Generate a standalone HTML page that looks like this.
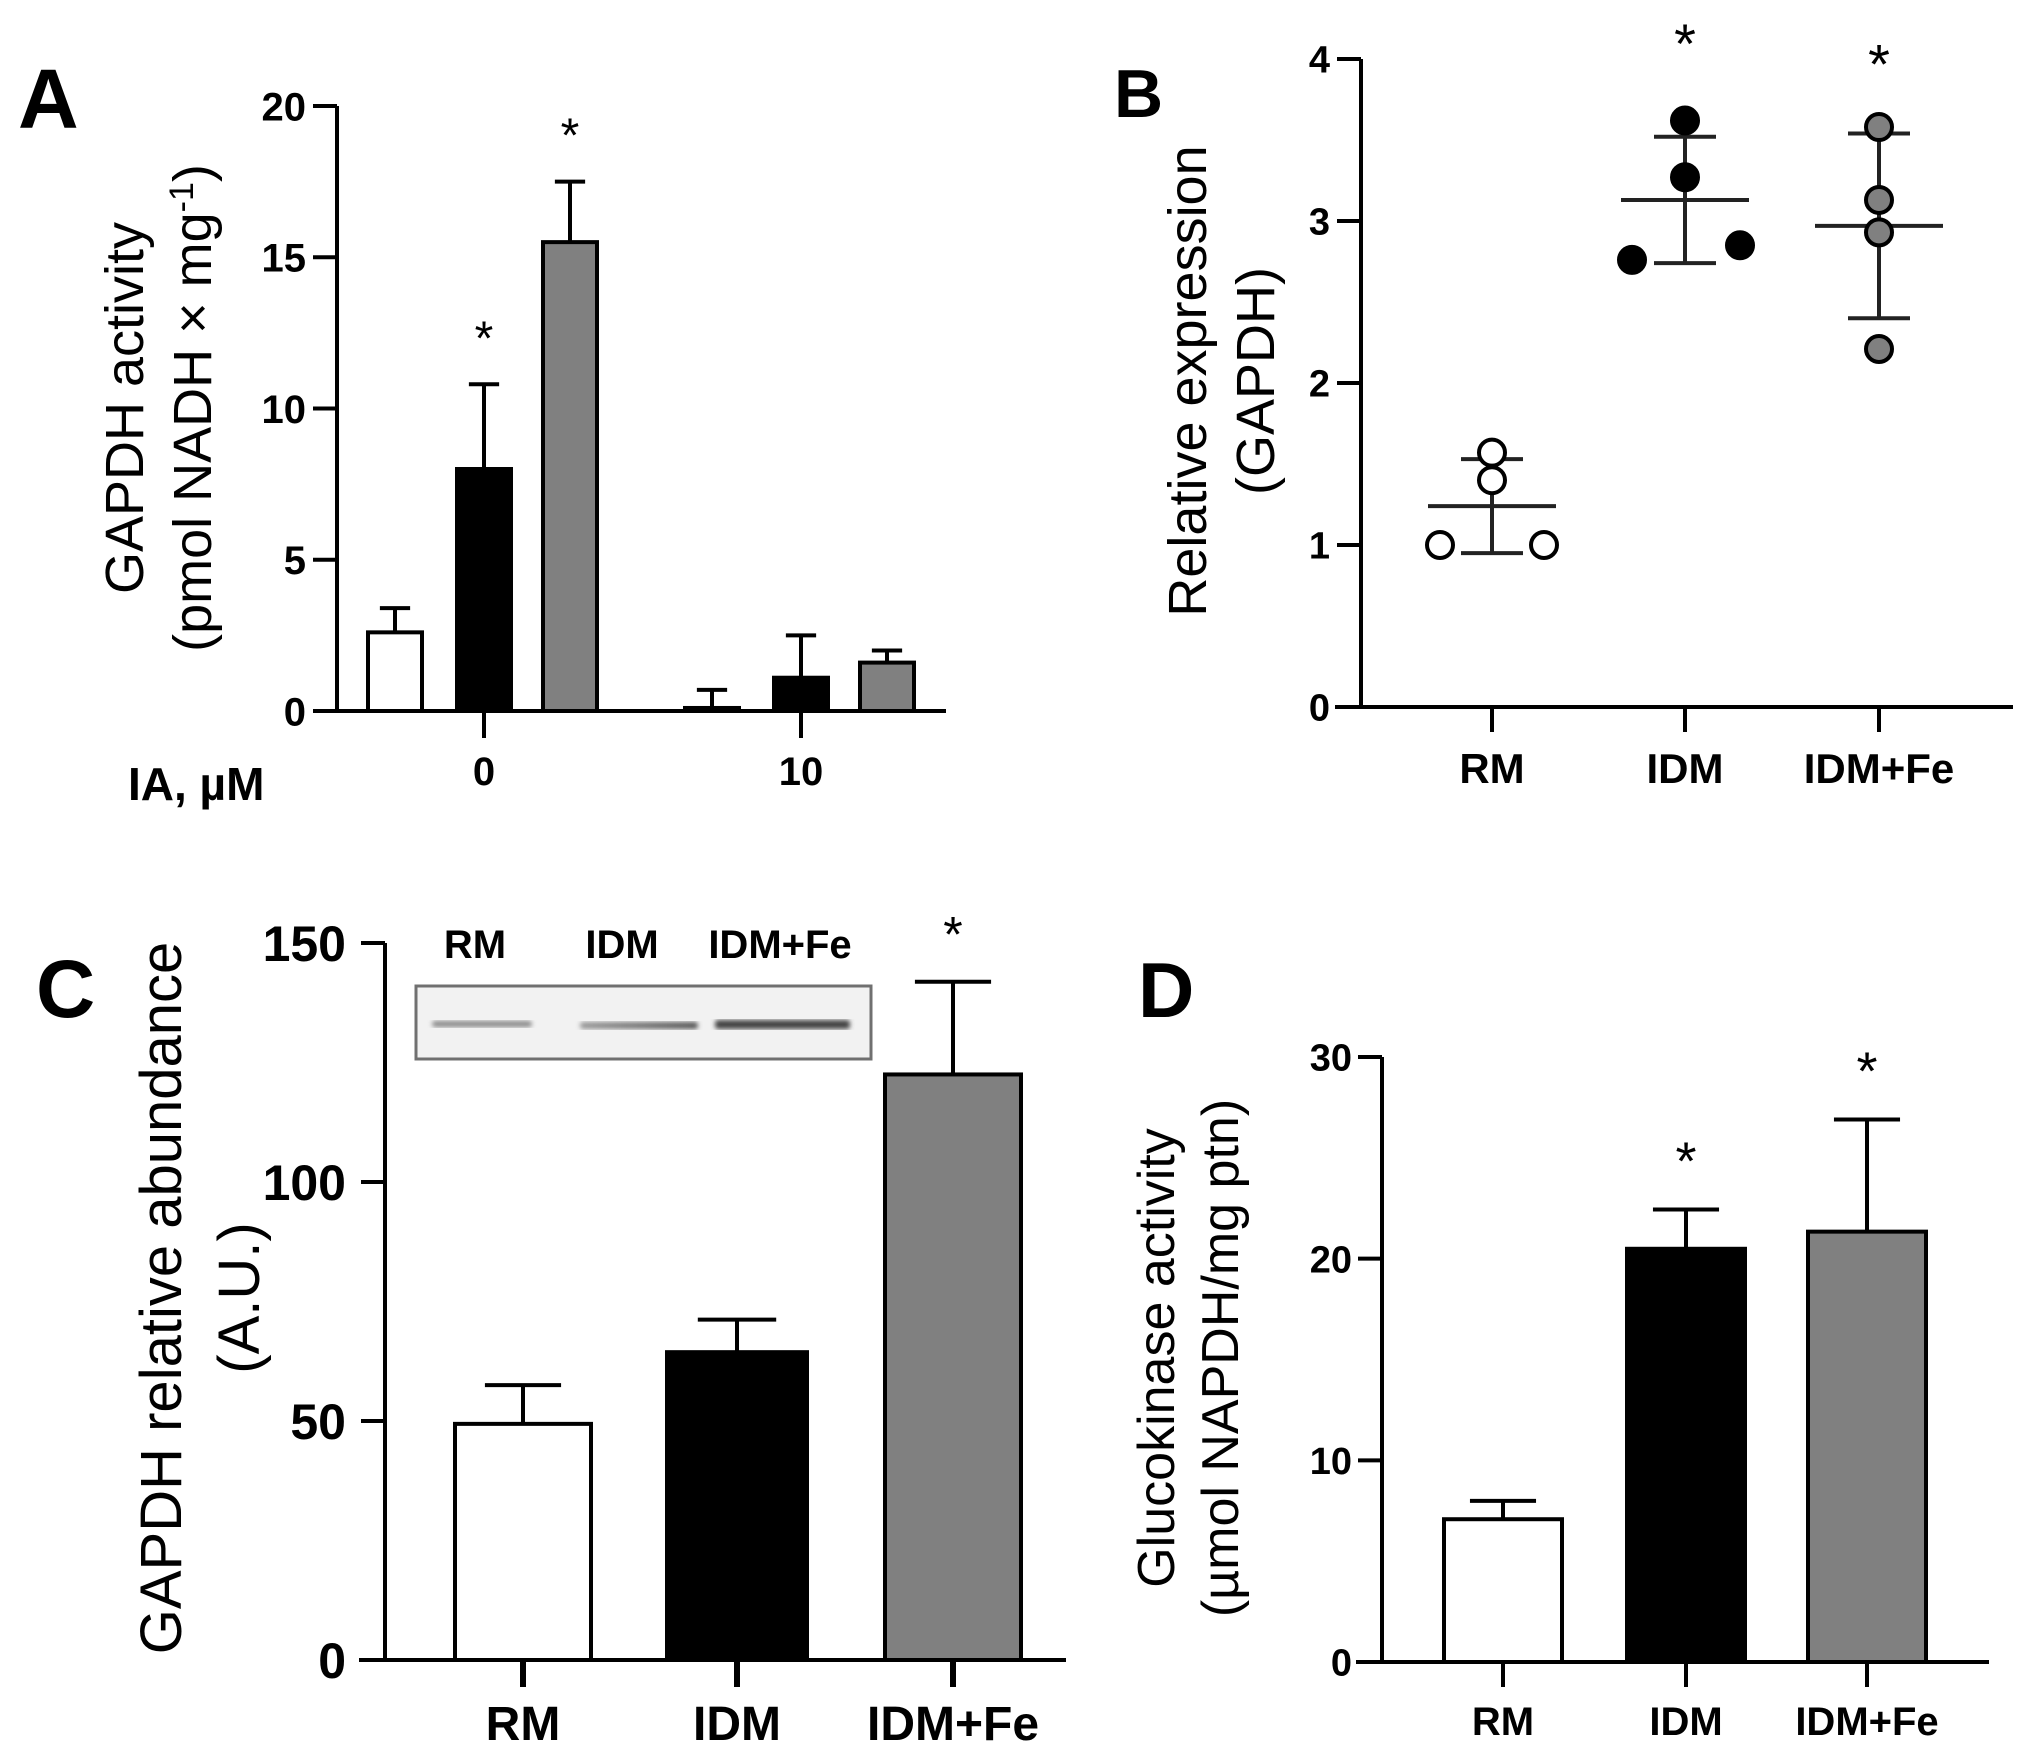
<!DOCTYPE html>
<html><head><meta charset="utf-8"><style>
html,body{margin:0;padding:0;background:#fff;}
svg{display:block;font-family:"Liberation Sans",Arial,sans-serif;}
</style></head><body>
<svg id="fig" width="2028" height="1756" viewBox="0 0 2028 1756" xmlns="http://www.w3.org/2000/svg">
<defs>
<linearGradient id="band" x1="0" x2="1"><stop offset="0" stop-color="#999"/><stop offset="1" stop-color="#555"/></linearGradient>
<filter id="blur"><feGaussianBlur stdDeviation="2.5"/></filter>
</defs>
<g id="panelA"></g>
<g id="panelB"></g>
<g id="panelC"></g>
<g id="panelD"></g>
</svg>
<script>
// Panel A data
const aGroups = ["0", "10"];
const aMeans = [[2.6, 8.0, 15.5], [0.1, 1.1, 1.6]];
const aErrs = [[0.8, 2.8, 2.0], [0.6, 1.4, 0.4]];
const aTicks = [0, 5, 10, 15, 20];
const aSig = [[false, true, true], [false, false, false]];
// Panel B data
const bCats = ["RM", "IDM", "IDM+Fe"];
const bPoints = [[1.00, 1.40, 1.57, 1.00], [2.76, 3.27, 3.62, 2.85], [3.58, 3.13, 2.93, 2.21]];
const bMean = [1.24, 3.13, 2.97];
const bSD = [0.29, 0.39, 0.57];
const bTicks = [0, 1, 2, 3, 4];
const bSig = [false, true, true];
// Panel C data
const cCats = ["RM", "IDM", "IDM+Fe"];
const cMeans = [49.4, 64.4, 122.5];
const cErrs = [8.1, 6.8, 19.4];
const cTicks = [0, 50, 100, 150];
const cSig = [false, false, true];
// Panel D data
const dCats = ["RM", "IDM", "IDM+Fe"];
const dMeans = [7.08, 20.49, 21.34];
const dErrs = [0.91, 1.95, 5.56];
const dTicks = [0, 10, 20, 30];
const dSig = [false, true, true];

const NS = "http://www.w3.org/2000/svg";
const fills = ["#ffffff", "#000000", "#808080"];
function mk(parent, tag, attrs, text) {
  const e = document.createElementNS(NS, tag);
  for (const k in attrs) e.setAttribute(k, attrs[k]);
  if (text !== undefined) e.textContent = text;
  parent.appendChild(e);
  return e;
}
function lin(d0, d1, r0, r1) { return v => r0 + (v - d0) * (r1 - r0) / (d1 - d0); }

function axisY(g, x, y, ticks, x0, fs, tickLen) {
  const ax = mk(g, "line", {x1: x, x2: x, y1: y(ticks[ticks.length - 1]), y2: y(ticks[0]), stroke: "#000", "stroke-width": 4});
  
  
  ticks.forEach(t => {
    const tk = mk(g, "line", {x1: x - tickLen, x2: x, y1: y(t), y2: y(t), stroke: "#000", "stroke-width": 4});
    
    
    const lb = mk(g, "text", {x: x0, y: y(t) + fs * 0.36, "text-anchor": "end", "font-size": fs, "font-weight": "bold"}, String(t));
    
    
  });
}
function title(g, cx, cy, lines, fs, gap) {
  lines.forEach((l, i) => {
    const t = mk(g, "text", {transform: `translate(${cx + i * gap},${cy}) rotate(-90)`, "text-anchor": "middle", "font-size": fs});
    
    
    if (Array.isArray(l)) { t.innerHTML = l[0]; } else t.textContent = l;
  });
}
function letter(g, x, y, s, fs) {
  const t = mk(g, "text", {x: x, y: y, "font-size": fs, "font-weight": "bold"}, s);
  
  
}
function bar(g, x0, x1, y, v, e, fill, sig, starFs) {
  const top = y(v), ey = y(v + e);
  const cx = (x0 + x1) / 2;
  const el = mk(g, "line", {x1: cx, x2: cx, y1: top, y2: ey, stroke: "#000", "stroke-width": 4});
  
  
  const cap = mk(g, "line", {x1: cx - (x1 - x0) * 0.28, x2: cx + (x1 - x0) * 0.28, y1: ey, y2: ey, stroke: "#000", "stroke-width": 4});
  
  
  const r = mk(g, "rect", {x: x0, y: top, width: x1 - x0, height: y(0) - top, fill: fill, stroke: "#000", "stroke-width": 4});
  
  
  if (sig) {
    const s = mk(g, "text", {x: cx, y: ey - 30, "text-anchor": "middle", "font-size": starFs}, "*");
    
    
  }
}

// ---- Panel A ----
(function () {
  const g = document.getElementById("panelA");
  const y = lin(0, 20, 711, 106);
  letter(g, 18, 128, "A", 84);
  title(g, 143, 408, ["GAPDH activity", ["(pmol NADH × mg<tspan dy='-18' font-size='34'>-1</tspan><tspan dy='18'>)</tspan>"]], 54, 68);
  axisY(g, 337, y, aTicks, 306, 40, 24);
  const xa = mk(g, "line", {x1: 314, x2: 946, y1: 711, y2: 711, stroke: "#000", "stroke-width": 4});
  
  
  const gx = [484, 801];
  const off = [-89, 0, 86];
  aGroups.forEach((grp, i) => {
    const tk = mk(g, "line", {x1: gx[i], x2: gx[i], y1: 711, y2: 738, stroke: "#000", "stroke-width": 4});
    
    
    const lb = mk(g, "text", {x: gx[i], y: 785, "text-anchor": "middle", "font-size": 40, "font-weight": "bold"}, grp);
    
    
    aMeans[i].forEach((v, j) => {
      const cx = gx[i] + off[j];
      bar(g, cx - 27, cx + 27, y, v, aErrs[i][j], fills[j], aSig[i][j], 48);
    });
  });
  const ia = mk(g, "text", {x: 128, y: 800, "font-size": 46, "font-weight": "bold"}, "IA, µM");
  
  
})();

// ---- Panel B ----
(function () {
  const g = document.getElementById("panelB");
  const y = lin(0, 4, 707, 59);
  letter(g, 1114, 117, "B", 68);
  title(g, 1206, 381, ["Relative expression", "(GAPDH)"], 54, 68);
  axisY(g, 1361, y, bTicks, 1330, 38, 24);
  const xa = mk(g, "line", {x1: 1335, x2: 2013, y1: 707, y2: 707, stroke: "#000", "stroke-width": 4});
  
  
  const cx = [1492, 1685, 1879];
  const ptOff = [[-52, 0, 0, 52], [-53, 0, 0, 55], [0, 0, 0, 0]];
  const pf = ["#fff", "#000", "#808080"];
  bCats.forEach((c, i) => {
    const tk = mk(g, "line", {x1: cx[i], x2: cx[i], y1: 707, y2: 732, stroke: "#000", "stroke-width": 4});
    
    
    const lb = mk(g, "text", {x: cx[i], y: 783, "text-anchor": "middle", "font-size": 42, "font-weight": "bold"}, c);
    
    
    const ml = mk(g, "line", {x1: cx[i] - 64, x2: cx[i] + 64, y1: y(bMean[i]), y2: y(bMean[i]), stroke: "#222", "stroke-width": 4});
    
    
    const sd = mk(g, "line", {x1: cx[i], x2: cx[i], y1: y(bMean[i] + bSD[i]), y2: y(bMean[i] - bSD[i]), stroke: "#222", "stroke-width": 4});
    
    
    [bMean[i] + bSD[i], bMean[i] - bSD[i]].forEach(v => {
      const cp = mk(g, "line", {x1: cx[i] - 31, x2: cx[i] + 31, y1: y(v), y2: y(v), stroke: "#222", "stroke-width": 4});
      
      
    });
    bPoints[i].forEach((v, k) => {
      const p = mk(g, "circle", {cx: cx[i] + ptOff[i][k], cy: y(v), r: 13, fill: pf[i], stroke: "#000", "stroke-width": 4});
      
      
    });
    if (bSig[i]) {
      const s = mk(g, "text", {x: cx[i], y: y(bMean[i] + bSD[i]) - 50 - (i === 1 ? 24 : 0), "text-anchor": "middle", "font-size": 56}, "*");
      
      
    }
  });
})();

// ---- Panel C ----
(function () {
  const g = document.getElementById("panelC");
  const y = lin(0, 150, 1660, 943);
  letter(g, 36, 1017, "C", 82);
  title(g, 181, 1298, ["GAPDH relative abundance", "(A.U.)"], 58, 78);
  axisY(g, 385, y, cTicks, 346, 50, 24);
  const xa = mk(g, "line", {x1: 359, x2: 1066, y1: 1660, y2: 1660, stroke: "#000", "stroke-width": 4});
  
  
  const cx = [523, 737, 953];
  const hw = [68, 70, 68];
  cCats.forEach((c, i) => {
    const tk = mk(g, "line", {x1: cx[i], x2: cx[i], y1: 1660, y2: 1687, stroke: "#000", "stroke-width": 6});
    
    
    const lb = mk(g, "text", {x: cx[i], y: 1740, "text-anchor": "middle", "font-size": 48, "font-weight": "bold"}, c);
    
    
    bar(g, cx[i] - hw[i], cx[i] + hw[i], y, cMeans[i], cErrs[i], fills[i], cSig[i], 50);
  });
  // blot inset
  const blot = mk(g, "g", {});
  
  
  mk(blot, "rect", {x: 416, y: 986, width: 455, height: 73, fill: "#f2f2f2", stroke: "#707070", "stroke-width": 3});
  mk(blot, "rect", {x: 432, y: 1021, width: 100, height: 6, fill: "#888", filter: "url(#blur)", rx: 3});
  mk(blot, "rect", {x: 580, y: 1022, width: 118, height: 7, fill: "url(#band)", filter: "url(#blur)", rx: 3});
  mk(blot, "rect", {x: 715, y: 1020, width: 135, height: 9, fill: "#444", filter: "url(#blur)", rx: 3});
  const il = [["RM", 475], ["IDM", 622], ["IDM+Fe", 780]];
  il.forEach(([t, x]) => {
    const lb = mk(g, "text", {x: x, y: 958, "text-anchor": "middle", "font-size": 40, "font-weight": "bold"}, t);
    
    
  });
})();

// ---- Panel D ----
(function () {
  const g = document.getElementById("panelD");
  const y = lin(0, 30, 1662, 1057);
  letter(g, 1138, 1017, "D", 78);
  title(g, 1174, 1358, ["Glucokinase activity", "(µmol NAPDH/mg ptn)"], 52, 64);
  axisY(g, 1382, y, dTicks, 1352, 38, 24);
  const xa = mk(g, "line", {x1: 1356, x2: 1989, y1: 1662, y2: 1662, stroke: "#000", "stroke-width": 4});
  
  
  const cx = [1503, 1686, 1867];
  dCats.forEach((c, i) => {
    const tk = mk(g, "line", {x1: cx[i], x2: cx[i], y1: 1662, y2: 1687, stroke: "#000", "stroke-width": 4});
    
    
    const lb = mk(g, "text", {x: cx[i], y: 1735, "text-anchor": "middle", "font-size": 40, "font-weight": "bold"}, c);
    
    
    bar(g, cx[i] - 59, cx[i] + 59, y, dMeans[i], dErrs[i], fills[i], dSig[i], 54);
  });
})();
</script>
</body></html>
